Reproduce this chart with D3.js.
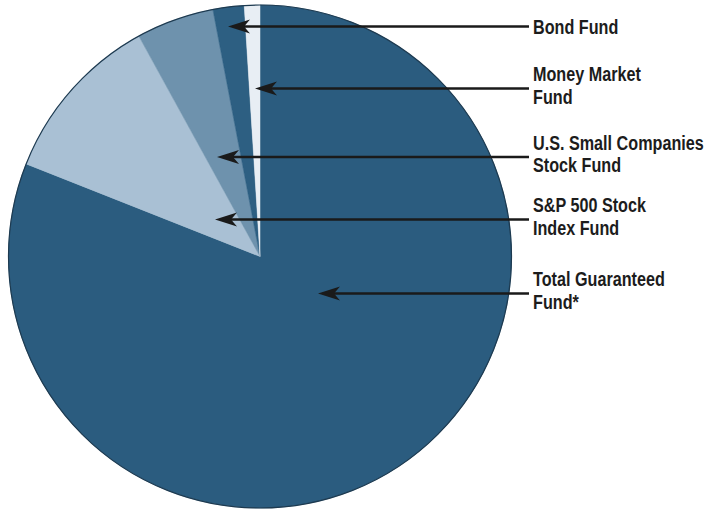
<!DOCTYPE html>
<html>
<head>
<meta charset="utf-8">
<script src="https://cdn.jsdelivr.net/npm/d3@7"></script>
<style>
  html, body { margin: 0; padding: 0; background: #ffffff; }
  svg { display: block; }
  .lbl { font-family: "Liberation Sans", Arial, sans-serif; font-weight: bold; font-size: 19.5px; fill: #1c1c1c; }
</style>
</head>
<body>
<svg id="chart" width="709" height="510"></svg>
<script>
// Fund allocation (percent of total assets), clockwise from 12 o'clock
const funds = ["Total Guaranteed Fund*", "S&P 500 Stock Index Fund", "U.S. Small Companies Stock Fund", "Bond Fund", "Money Market Fund"];
const shares = [81, 11, 5, 2, 1];
const fundColors = ["#2b5c7f", "#a9c0d4", "#6e92ad", "#2d5f82", "#e8eef4"];

// Callout text, listed top to bottom as it appears beside the pie
const calloutFund = ["Bond Fund", "Money Market Fund", "U.S. Small Companies Stock Fund", "S&P 500 Stock Index Fund", "Total Guaranteed Fund*"];
const calloutLines = [["Bond Fund"], ["Money Market", "Fund"], ["U.S. Small Companies", "Stock Fund"], ["S&P 500 Stock", "Index Fund"], ["Total Guaranteed", "Fund*"]];

const svg = d3.select("#chart");
const cx = 260, cy = 256.5, R = 251.5;

const pie = d3.pie().sort(null).value(d => d.value).startAngle(0).endAngle(2 * Math.PI);
const arcs = pie(funds.map((f, i) => ({ name: f, value: shares[i], color: fundColors[i] })));
const arc = d3.arc().innerRadius(0).outerRadius(R);

const g = svg.append("g").attr("transform", `translate(${cx},${cy})`);
g.selectAll("path.slice")
  .data(arcs)
  .join("path")
  .attr("class", "slice")
  .attr("d", arc)
  .attr("fill", d => d.data.color)
  .attr("stroke", d => d.data.color)
  .attr("stroke-width", 0.5);

// thin dark rim around the disc
g.append("circle").attr("r", R).attr("fill", "none").attr("stroke", "#1d3a50").attr("stroke-width", 1.2);

// Callout arrows: each row sits at a given height and points into its slice
const rowY = [26.5, 88.5, 157, 219.5, 293.5];
const tipX = [228, 255, 217, 215, 318];
const lineEnd = 529, textX = 533, lineH = 22.5, narrow = 0.83;

const callouts = svg.append("g");
calloutFund.forEach((name, i) => {
  const y = rowY[i], tx = tipX[i];
  callouts.append("line")
    .attr("x1", tx + 14).attr("x2", lineEnd)
    .attr("y1", y).attr("y2", y)
    .attr("stroke", "#1a1a1a").attr("stroke-width", 2.4);
  const p = d3.path();
  p.moveTo(tx, y);
  p.lineTo(tx + 22, y - 7);
  p.lineTo(tx + 16, y);
  p.lineTo(tx + 22, y + 7);
  p.closePath();
  callouts.append("path").attr("d", p.toString()).attr("fill", "#1a1a1a");

  // condensed label: horizontally compressed bold sans
  const lines = calloutLines[i];
  const base = lines.length === 1 ? y + 7.5 : y - 7;
  const t = callouts.append("text")
    .attr("class", "lbl")
    .attr("transform", `translate(${textX},0) scale(${narrow},1)`)
    .attr("x", 0).attr("y", base);
  lines.forEach((ln, k) => {
    t.append("tspan").attr("x", 0).attr("y", base + k * lineH).text(ln);
  });
});
</script>
</body>
</html>
